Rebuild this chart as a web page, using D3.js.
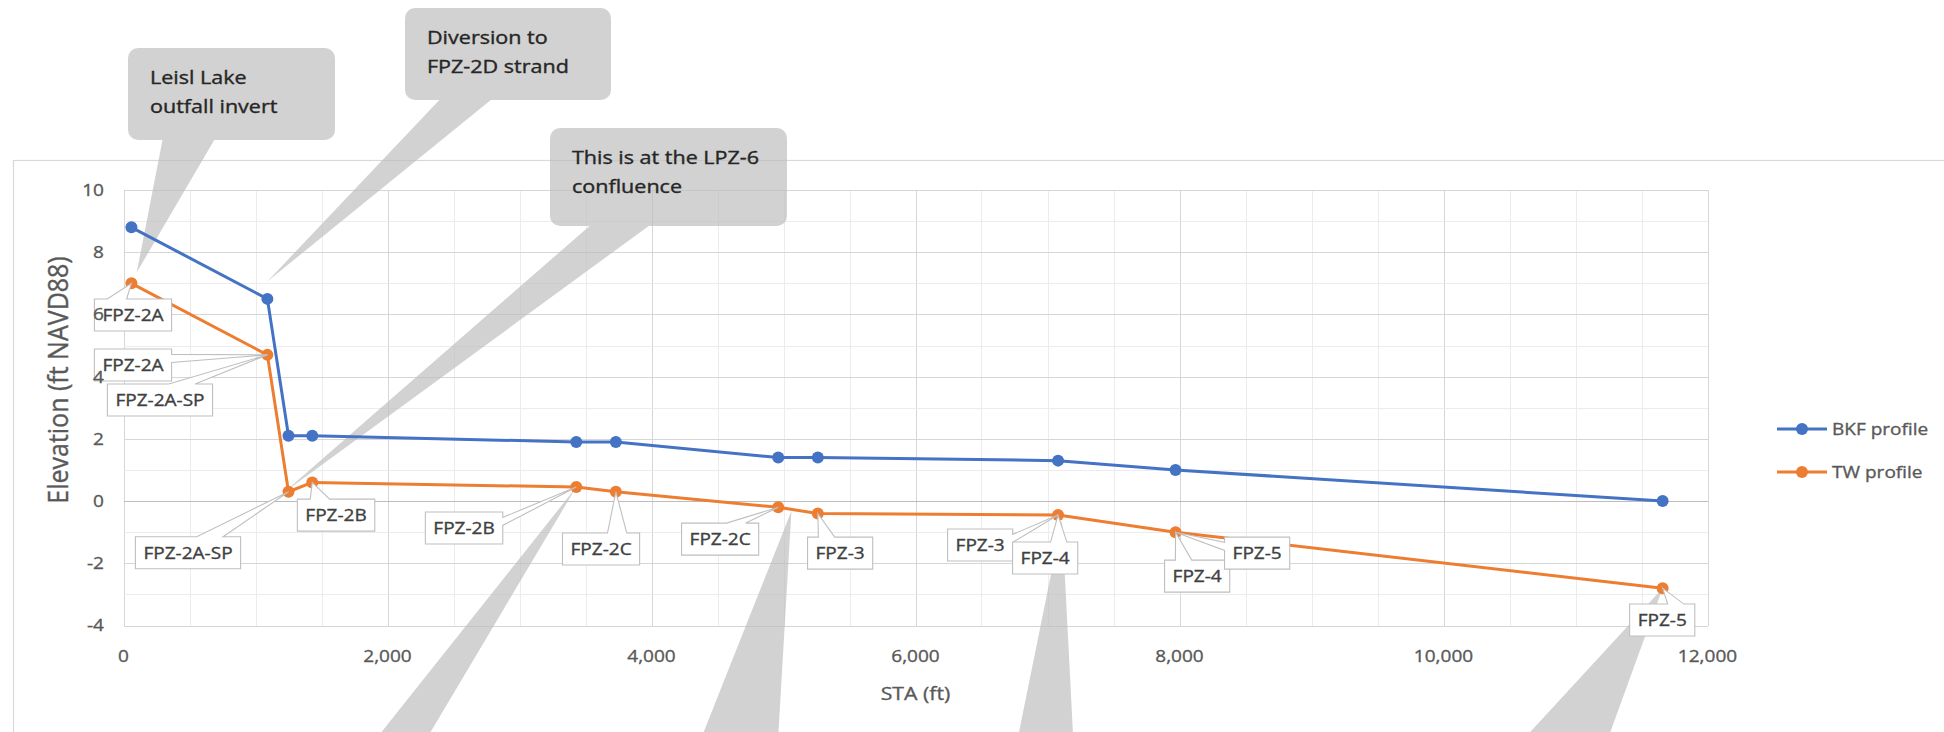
<!DOCTYPE html>
<html>
<head>
<meta charset="utf-8">
<script src="https://cdn.jsdelivr.net/npm/d3@7"></script>
<style>
  html, body { margin: 0; padding: 0; background: #ffffff; }
  svg { display: block; }
  text { font-family: "Open Sans", "Noto Sans", sans-serif; paint-order: stroke; stroke-width: 0.35px; }
</style>
</head>
<body>
<svg id="chart" width="1944" height="732"></svg>
<script>
// ---- data ---------------------------------------------------------------
const sta        = [60, 1090, 1250, 1430, 3430, 3730, 4960, 5260, 7080, 7970, 11660];
const bkfProfile = [8.8, 6.5, 2.1, 2.1, 1.9, 1.9, 1.4, 1.4, 1.3, 1.0, 0.0];
const twProfile  = [7.0, 4.7, 0.3, 0.6, 0.45, 0.3, -0.2, -0.4, -0.45, -1.0, -2.8];
const seriesNames = ["BKF profile", "TW profile"];
const xTicks = [0, 2000, 4000, 6000, 8000, 10000, 12000];
const yTicks = [-4, -2, 0, 2, 4, 6, 8, 10];

// reach names attached to points of the TW profile
const reachLabelPoint = [0, 1, 1, 2, 3, 4, 5, 6, 7, 8, 8, 9, 9, 10];
const reachLabelText  = ["FPZ-2A", "FPZ-2A", "FPZ-2A-SP", "FPZ-2A-SP", "FPZ-2B", "FPZ-2B",
                         "FPZ-2C", "FPZ-2C", "FPZ-3", "FPZ-3", "FPZ-4", "FPZ-4", "FPZ-5", "FPZ-5"];

// notes: text lines and where each note points (STA, elevation)
const noteText = [["Leisl Lake", "outfall invert"], ["Diversion to", "FPZ-2D strand"],
                  ["This is at the LPZ-6", "confluence"], [], [], [], []];
const noteTipSta  = [100, 1087, 1208, 3430, 5060, 7110, 11660];
const noteTipElev = [7.35, 7.05, 0.25, 0.45, -0.32, -0.61, -2.8];

// ---- layout -------------------------------------------------------------
const plot = { left: 123.5, right: 1707.5, top: 190, bottom: 625.5 };
const colors = { bkf: "#4472C4", tw: "#ED7D31" };
const textStretch = 1.12;

// label box offsets from their point (px)
const labelOffset = [[1.6, 31.7], [-134.4, 10.2], [-107.4, 45.2], [-100.5, 61], [23.8, 32.7],
                     [-112.2, 41], [-14.8, 57.3], [-58.1, 31.8], [22.3, 39.6], [-77.9, 30],
                     [-12.9, 43], [21.6, 43.9], [81.6, 20.9], [-0.4, 31.9]];
// note bubble boxes (the last four sit below the visible area)
const noteBox = [{ x: 128, y: 48, w: 207, h: 92 }, { x: 405, y: 8, w: 206, h: 92 },
                 { x: 550, y: 128, w: 237, h: 98 }, { x: 181, y: 800, w: 251, h: 90 },
                 { x: 496, y: 760, w: 337, h: 90 }, { x: 871, y: 760, w: 244, h: 90 },
                 { x: 1281, y: 760, w: 383, h: 90 }];

const svg = d3.select("#chart");

const x = d3.scaleLinear().domain([0, 12000]).range([plot.left, plot.right]);
const y = d3.scaleLinear().domain([-4, 10]).range([plot.bottom, plot.top]);

// text that is widened horizontally
function wideText(parent, px, py, str, size, anchor, sx, fill) {
  return parent.append("text")
    .attr("transform", `translate(${px},${py}) scale(${sx},1)`)
    .attr("text-anchor", anchor)
    .attr("dy", "0.35em")
    .attr("font-size", size)
    .attr("fill", fill)
    .attr("stroke", fill)
    .text(str);
}

// rectangle callout with a wedge toward (tx, ty); r = corner radius
function calloutPath(b, tx, ty, r) {
  const l = b.x, t = b.y, rr = b.x + b.w, bb = b.y + b.h, w = b.w, h = b.h;
  const dx = tx - (l + w / 2), dy = ty - (t + h / 2);
  const vertical = Math.abs(dy) > Math.abs(dx * h / w);
  const x1 = l + w * (dx > 0 ? 7 : 2) / 12, x2 = l + w * (dx > 0 ? 10 : 5) / 12;
  const y1 = t + h * (dy > 0 ? 7 : 2) / 12, y2 = t + h * (dy > 0 ? 10 : 5) / 12;
  const p = d3.path();
  p.moveTo(l + r, t);
  if (vertical && dy < 0) { p.lineTo(x1, t); p.lineTo(tx, ty); p.lineTo(x2, t); }
  p.lineTo(rr - r, t);
  if (r) p.arcTo(rr, t, rr, t + r, r);
  if (!vertical && dx > 0) { p.lineTo(rr, y1); p.lineTo(tx, ty); p.lineTo(rr, y2); }
  p.lineTo(rr, bb - r);
  if (r) p.arcTo(rr, bb, rr - r, bb, r);
  if (vertical && dy > 0) { p.lineTo(x2, bb); p.lineTo(tx, ty); p.lineTo(x1, bb); }
  p.lineTo(l + r, bb);
  if (r) p.arcTo(l, bb, l, bb - r, r);
  if (!vertical && dx < 0) { p.lineTo(l, y2); p.lineTo(tx, ty); p.lineTo(l, y1); }
  p.lineTo(l, t + r);
  if (r) p.arcTo(l, t, l + r, t, r);
  p.closePath();
  return p.toString();
}

// chart area frame
svg.append("rect")
  .attr("x", 13.5).attr("y", 160.5).attr("width", 2000).attr("height", 1000)
  .attr("fill", "#ffffff").attr("stroke", "#d9d9d9").attr("stroke-width", 1.2);

// gridlines
const grid = svg.append("g").attr("shape-rendering", "crispEdges");
grid.selectAll(".xminor").data(d3.range(0, 12001, 500)).join("line")
  .attr("x1", d => Math.round(x(d)) + 0.5).attr("x2", d => Math.round(x(d)) + 0.5)
  .attr("y1", plot.top).attr("y2", plot.bottom)
  .attr("stroke", d => d % 2000 === 0 ? "#d6d6d6" : "#ececec").attr("stroke-width", 1.2);
grid.selectAll(".yminor").data(d3.range(-4, 10.01, 1)).join("line")
  .attr("y1", d => Math.round(y(d)) + 0.5).attr("y2", d => Math.round(y(d)) + 0.5)
  .attr("x1", plot.left).attr("x2", plot.right)
  .attr("stroke", d => d % 2 === 0 ? "#d6d6d6" : "#ececec").attr("stroke-width", 1.2);
// horizontal axis line at elevation 0
grid.append("line")
  .attr("x1", plot.left).attr("x2", plot.right)
  .attr("y1", Math.round(y(0)) + 0.5).attr("y2", Math.round(y(0)) + 0.5)
  .attr("stroke", "#bdbdbd").attr("stroke-width", 1.4);

// gray note bubbles
const notes = svg.append("g");
noteBox.forEach((b, i) => {
  notes.append("path")
    .attr("d", calloutPath(b, x(noteTipSta[i]), y(noteTipElev[i]), 10))
    .attr("fill", "#bdbdbd").attr("fill-opacity", 0.68);
});

// series
const pts = (vals) => sta.map((s, i) => [x(s), y(vals[i])]);
const line = d3.line();
[[bkfProfile, colors.bkf], [twProfile, colors.tw]].forEach(([vals, c]) => {
  const g = svg.append("g");
  g.append("path").attr("d", line(pts(vals)))
    .attr("fill", "none").attr("stroke", c).attr("stroke-width", 3).attr("stroke-linejoin", "round");
  g.selectAll("circle").data(pts(vals)).join("circle")
    .attr("cx", d => d[0]).attr("cy", d => d[1]).attr("r", 6).attr("fill", c);
});

// reach labels on the TW profile
const labels = svg.append("g");
reachLabelText.forEach((txt, i) => {
  const k = reachLabelPoint[i];
  const px = x(sta[k]), py = y(twProfile[k]);
  const cx = px + labelOffset[i][0], cy = py + labelOffset[i][1];
  const holder = labels.append("g");
  const shape = holder.append("path");
  const t = wideText(holder, cx, cy, txt, 17, "middle", textStretch, "#404040");
  const tw = t.node().getComputedTextLength() * textStretch;
  const box = { x: cx - tw / 2 - 8, y: cy - 16, w: tw + 16, h: 32 };
  shape.attr("d", calloutPath(box, px, py, 0))
    .attr("fill", "#ffffff").attr("stroke", "#bfbfbf").attr("stroke-width", 1.1);
});

// note text
noteText.forEach((lines, i) => {
  lines.forEach((ln, j) => {
    wideText(notes, noteBox[i].x + 22, noteBox[i].y + 30 + j * 29, ln, 17.5, "start", 1.23, "#262626");
  });
});

// axes labels
const axes = svg.append("g");
yTicks.forEach(v => wideText(axes, 104, y(v), String(v), 17, "end", textStretch, "#595959"));
const fmt = d3.format(",");
xTicks.forEach(v => wideText(axes, x(v), 656, fmt(v), 17, "middle", textStretch, "#595959"));

wideText(axes, (plot.left + plot.right) / 2, 693, "STA (ft)", 19, "middle", textStretch, "#595959");
axes.append("text")
  .attr("transform", `translate(58,380) rotate(-90) scale(1,${textStretch})`)
  .attr("text-anchor", "middle").attr("dy", "0.35em")
  .attr("font-size", 25).attr("fill", "#595959").attr("stroke", "#595959")
  .text("Elevation (ft NAVD88)");

// legend
const legend = svg.append("g");
[colors.bkf, colors.tw].forEach((c, i) => {
  const ly = 429 + i * 43;
  legend.append("line").attr("x1", 1777).attr("x2", 1827).attr("y1", ly).attr("y2", ly)
    .attr("stroke", c).attr("stroke-width", 3);
  legend.append("circle").attr("cx", 1802).attr("cy", ly).attr("r", 6).attr("fill", c);
  wideText(legend, 1832, ly, seriesNames[i], 17, "start", textStretch, "#595959");
});
</script>
</body>
</html>
